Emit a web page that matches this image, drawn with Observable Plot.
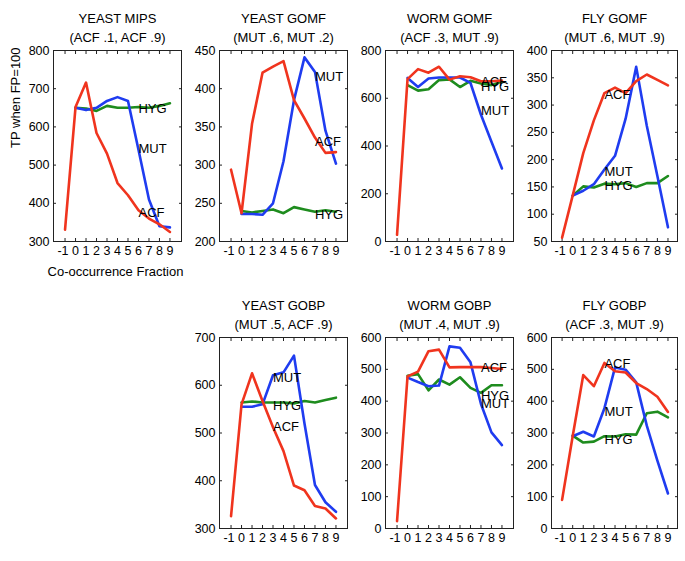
<!DOCTYPE html>
<html>
<head>
<meta charset="utf-8">
<script src="https://cdn.jsdelivr.net/npm/d3@7"></script>
<script src="https://cdn.jsdelivr.net/npm/@observablehq/plot@0.6"></script>
<style>
  html, body { margin: 0; padding: 0; background: #fff; }
  #chart { position: relative; width: 685px; height: 561px; overflow: hidden; background: #fff; }
  #chart svg { position: absolute; }
</style>
</head>
<body>
<div id="chart"></div>
<script>
// ---------- data ----------
const fractions = [-1, 0, 1, 2, 3, 4, 5, 6, 7, 8, 9];
const seriesNames = ["ACF", "MUT", "HYG"];
const seriesColors = ["#f0341e", "#1f3cf0", "#1e8c1e"];

const panelTitles = ["YEAST MIPS", "YEAST GOMF", "WORM GOMF", "FLY GOMF", "YEAST GOBP", "WORM GOBP", "FLY GOBP"];
const panelSubtitles = ["(ACF .1, ACF .9)", "(MUT .6, MUT .2)", "(ACF .3, MUT .9)", "(MUT .6, MUT .9)", "(MUT .5, ACF .9)", "(MUT .4, MUT .9)", "(ACF .3, MUT .9)"];

const yAxisLabel = "TP when FP=100";
const xAxisLabel = "Co-occurrence Fraction";

// values for x = -1 .. 9 (null = no value)
const yeastMipsACF = [331, 652, 716, 584, 530, 453, 421, 382, 360, 345, 325];
const yeastMipsMUT = [null, 650, 644, 650, 668, 678, 668, 540, 410, 340, 337];
const yeastMipsHYG = [null, 650, 648, 642, 655, 650, 650, 652, 650, 655, 662];

const yeastGomfACF = [294, 237, 354, 421, 429, 436, 385, 361, 336, 316, 317];
const yeastGomfMUT = [null, 236, 236, 235, 250, 305, 385, 441, 422, 345, 302];
const yeastGomfHYG = [null, 240, 238, 240, 242, 237, 245, 242, 239, 241, 239];

const wormGomfACF = [28, 680, 722, 707, 732, 678, 692, 688, 671, 671, 674];
const wormGomfMUT = [null, 685, 647, 683, 687, 687, 687, 664, 531, 418, 306];
const wormGomfHYG = [null, 655, 632, 638, 676, 679, 647, 673, 662, 655, 670];

const flyGomfACF = [57, 134, 212, 272, 322, 332, 322, 344, 356, 346, 336];
const flyGomfMUT = [null, 134, 143, 155, 182, 207, 275, 370, 262, 170, 76];
const flyGomfHYG = [null, 134, 151, 149, 156, 155, 157, 150, 157, 157, 170];

const yeastGobpACF = [326, 560, 625, 567, 512, 462, 390, 380, 347, 342, 321];
const yeastGobpMUT = [null, 555, 555, 560, 621, 627, 662, 520, 391, 355, 335];
const yeastGobpHYG = [null, 564, 566, 564, 564, 564, 562, 567, 564, 569, 574];

const wormGobpACF = [23, 478, 493, 557, 562, 506, 507, 507, 507, 504, 501];
const wormGobpMUT = [null, 474, 460, 447, 449, 572, 568, 522, 391, 302, 262];
const wormGobpHYG = [null, 480, 485, 434, 468, 452, 475, 442, 426, 450, 450];

const flyGobpACF = [90, 290, 482, 447, 520, 494, 490, 457, 438, 414, 366];
const flyGobpMUT = [null, 290, 304, 289, 378, 506, 499, 459, 323, 213, 110];
const flyGobpHYG = [null, 292, 270, 273, 290, 289, 296, 295, 362, 367, 349];

// series label anchors (data coords), order ACF, MUT, HYG
const yeastMipsLabelX = [6, 6, 6];     const yeastMipsLabelY = [375, 542, 647];
const yeastGomfLabelX = [7, 7, 7];     const yeastGomfLabelY = [330, 416, 235];
const wormGomfLabelX  = [7, 7, 7];     const wormGomfLabelY  = [667, 547, 647];
const flyGomfLabelX   = [3, 3, 3];     const flyGomfLabelY   = [318, 178, 152];
const yeastGobpLabelX = [3, 3, 3];     const yeastGobpLabelY = [513, 615, 557];
const wormGobpLabelX  = [7, 7, 7];     const wormGobpLabelY  = [504, 391, 417];
const flyGobpLabelX   = [3, 3, 3];     const flyGobpLabelY   = [516, 368, 280];

// y tick labels per panel
const yeastMipsTicks = [300, 400, 500, 600, 700, 800];
const yeastGomfTicks = [200, 250, 300, 350, 400, 450];
const wormGomfTicks  = [0, 200, 400, 600, 800];
const flyGomfTicks   = [50, 100, 150, 200, 250, 300, 350, 400];
const yeastGobpTicks = [300, 400, 500, 600, 700];
const wormGobpTicks  = [0, 100, 200, 300, 400, 500, 600];
const flyGobpTicks   = [0, 100, 200, 300, 400, 500, 600];

// ---------- assembly ----------
const panels = [
  {series: [yeastMipsACF, yeastMipsMUT, yeastMipsHYG], lx: yeastMipsLabelX, ly: yeastMipsLabelY, ticks: yeastMipsTicks},
  {series: [yeastGomfACF, yeastGomfMUT, yeastGomfHYG], lx: yeastGomfLabelX, ly: yeastGomfLabelY, ticks: yeastGomfTicks},
  {series: [wormGomfACF, wormGomfMUT, wormGomfHYG], lx: wormGomfLabelX, ly: wormGomfLabelY, ticks: wormGomfTicks},
  {series: [flyGomfACF, flyGomfMUT, flyGomfHYG], lx: flyGomfLabelX, ly: flyGomfLabelY, ticks: flyGomfTicks},
  {series: [yeastGobpACF, yeastGobpMUT, yeastGobpHYG], lx: yeastGobpLabelX, ly: yeastGobpLabelY, ticks: yeastGobpTicks},
  {series: [wormGobpACF, wormGobpMUT, wormGobpHYG], lx: wormGobpLabelX, ly: wormGobpLabelY, ticks: wormGobpTicks},
  {series: [flyGobpACF, flyGobpMUT, flyGobpHYG], lx: flyGobpLabelX, ly: flyGobpLabelY, ticks: flyGobpTicks}
];

const gridPos = [[0, 0], [1, 0], [2, 0], [3, 0], [1, 1], [2, 1], [3, 1]];
const frameLefts = [53, 219, 385, 551];
const frameWidths = [128, 128, 128, 126];
const xDomains = [[-2.1, 10.1], [-2.1, 10.1], [-2.1, 10.1], [-2.0, 9.9]];
const rowFrameTops = [50, 336.5];
const frameH = 191;
const MT = 50, MB = 45, MR = 6;
const FONT = '"Liberation Sans", Arial, Helvetica, sans-serif';
const INK = "#222";

const chart = document.getElementById("chart");

panels.forEach((p, i) => {
  const [col, row] = gridPos[i];
  const ML = col === 0 ? 53 : 45;
  const fw = frameWidths[col];

  const rows = [];
  [2, 1, 0].forEach(s => {
    p.series[s].forEach((v, k) => {
      if (v != null) rows.push({x: fractions[k], y: v, series: seriesNames[s]});
    });
  });
  const labels = seriesNames.map((n, s) => ({name: n, x: p.lx[s], y: p.ly[s]}));

  const marks = [
    Plot.frame({stroke: INK, strokeWidth: 1}),
    // inward ticks on all four sides
    Plot.axisX(fractions, {anchor: "bottom", tickSize: -3, label: null, stroke: INK, fill: "none"}),
    Plot.axisX(fractions, {anchor: "top", tickSize: -3, label: null, stroke: INK, fill: "none"}),
    Plot.axisY(p.ticks, {anchor: "left", tickSize: -3, tickPadding: 7, label: null, stroke: INK, fill: "#000", tickFormat: d => String(d)}),
    Plot.axisY(p.ticks, {anchor: "right", tickSize: -3, label: null, stroke: INK, fill: "none"}),
    // x tick labels (negative labels hang their sign to the left of the digit)
    Plot.text(fractions.filter(d => d >= 0), {x: d => d, text: d => String(d), frameAnchor: "bottom", dy: 13.5, fill: "#000"}),
    Plot.text(fractions.filter(d => d < 0), {x: d => d, text: d => String(d), frameAnchor: "bottom", dy: 13.5, textAnchor: "end", dx: 3.5, fill: "#000"}),
    Plot.line(rows, {x: "x", y: "y", z: "series", stroke: "series", strokeWidth: 2.6}),
    Plot.text(labels, {x: "x", y: "y", text: "name", textAnchor: "start", fontSize: 13, fill: "#000"}),
    Plot.text([panelTitles[i]], {text: d => d, frameAnchor: "top", dy: -36.5, fontSize: 13, fill: "#000"}),
    Plot.text([panelSubtitles[i]], {text: d => d, frameAnchor: "top", dy: -18, fontSize: 13, fill: "#000"})
  ];
  if (i === 0) {
    marks.push(Plot.text([yAxisLabel], {text: d => d, frameAnchor: "left", rotate: -90, dx: -38, dy: 2, fontSize: 13, fill: "#000"}));
    marks.push(Plot.text([xAxisLabel], {text: d => d, frameAnchor: "bottom", dy: 34.5, dx: -2, fontSize: 13, fill: "#000"}));
  }

  const svg = Plot.plot({
    width: ML + fw + MR,
    height: MT + frameH + MB,
    marginLeft: ML, marginRight: MR, marginTop: MT, marginBottom: MB,
    x: {domain: xDomains[col], label: null},
    y: {domain: [p.ticks[0], p.ticks[p.ticks.length - 1]], label: null},
    color: {domain: seriesNames, range: seriesColors},
    style: {fontFamily: FONT, fontSize: "12.5px", background: "transparent", color: "#000", overflow: "visible"},
    marks
  });
  svg.style.left = (frameLefts[col] - ML) + "px";
  svg.style.top = (rowFrameTops[row] - MT) + "px";
  chart.appendChild(svg);
});
</script>
</body>
</html>
